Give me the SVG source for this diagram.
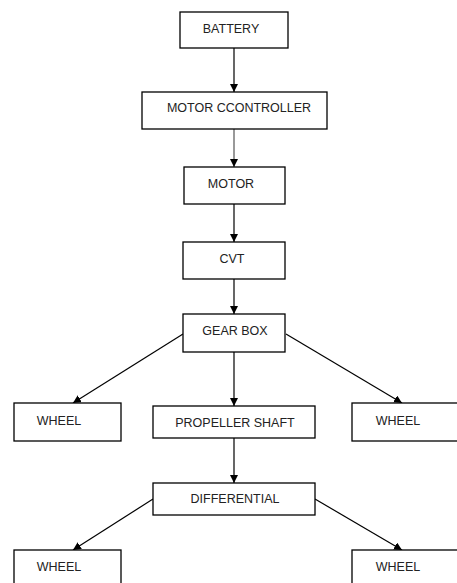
<svg xmlns="http://www.w3.org/2000/svg" width="457" height="583" viewBox="0 0 457 583">
<style>
.box{fill:#fff;stroke:#000;stroke-width:1.3}
.lbl{font-family:"Liberation Sans",Arial,sans-serif;font-size:12.5px;fill:#222;text-anchor:middle}
.edge{stroke:#000;stroke-width:1.2;fill:none;marker-end:url(#ah)}
</style>
<defs>
<marker id="ah" markerUnits="userSpaceOnUse" markerWidth="9" markerHeight="9" refX="8" refY="4" orient="auto">
<path d="M0,0 L8,4 L0,8 z" fill="#000"/>
</marker>
</defs>
<rect width="457" height="583" fill="#fff"/>
<g id="connectors">
<line class="edge" x1="234" y1="48" x2="234" y2="92"/>
<line class="edge" x1="234" y1="129" x2="234" y2="167" style="stroke:#555"/>
<line class="edge" x1="234" y1="204" x2="234" y2="242"/>
<line class="edge" x1="234" y1="279" x2="234" y2="314"/>
<line class="edge" x1="183" y1="334" x2="73" y2="403"/>
<line class="edge" x1="234" y1="352" x2="234" y2="406"/>
<line class="edge" x1="286" y1="334" x2="402" y2="403"/>
<line class="edge" x1="234" y1="438" x2="234" y2="483"/>
<line class="edge" x1="153" y1="499" x2="73" y2="550"/>
<line class="edge" x1="315" y1="499" x2="402" y2="550"/>
</g>
<g id="battery"><rect class="box" x="180" y="12" width="108" height="36"/><text class="lbl" x="231" y="33">BATTERY</text></g>
<g id="motor-controller"><rect class="box" x="142" y="92" width="185" height="37"/><text class="lbl" x="239" y="112">MOTOR CCONTROLLER</text></g>
<g id="motor"><rect class="box" x="184" y="167" width="101" height="37"/><text class="lbl" x="231" y="188">MOTOR</text></g>
<g id="cvt"><rect class="box" x="183" y="242" width="102" height="37"/><text class="lbl" x="232" y="263">CVT</text></g>
<g id="gearbox"><rect class="box" x="183" y="314" width="102" height="38"/><text class="lbl" x="235" y="335">GEAR BOX</text></g>
<g id="wheel-1"><rect class="box" x="14" y="403" width="107" height="38"/><text class="lbl" x="59" y="425">WHEEL</text></g>
<g id="propeller-shaft"><rect class="box" x="153" y="406" width="162" height="32"/><text class="lbl" x="235" y="427">PROPELLER SHAFT</text></g>
<g id="wheel-2"><rect class="box" x="352" y="403" width="120" height="38"/><text class="lbl" x="398" y="425">WHEEL</text></g>
<g id="differential"><rect class="box" x="153" y="483" width="162" height="32"/><text class="lbl" x="235" y="503">DIFFERENTIAL</text></g>
<g id="wheel-3"><rect class="box" x="14" y="550" width="107" height="45"/><text class="lbl" x="59" y="571">WHEEL</text></g>
<g id="wheel-4"><rect class="box" x="352" y="550" width="120" height="45"/><text class="lbl" x="398" y="571">WHEEL</text></g>
</svg>
